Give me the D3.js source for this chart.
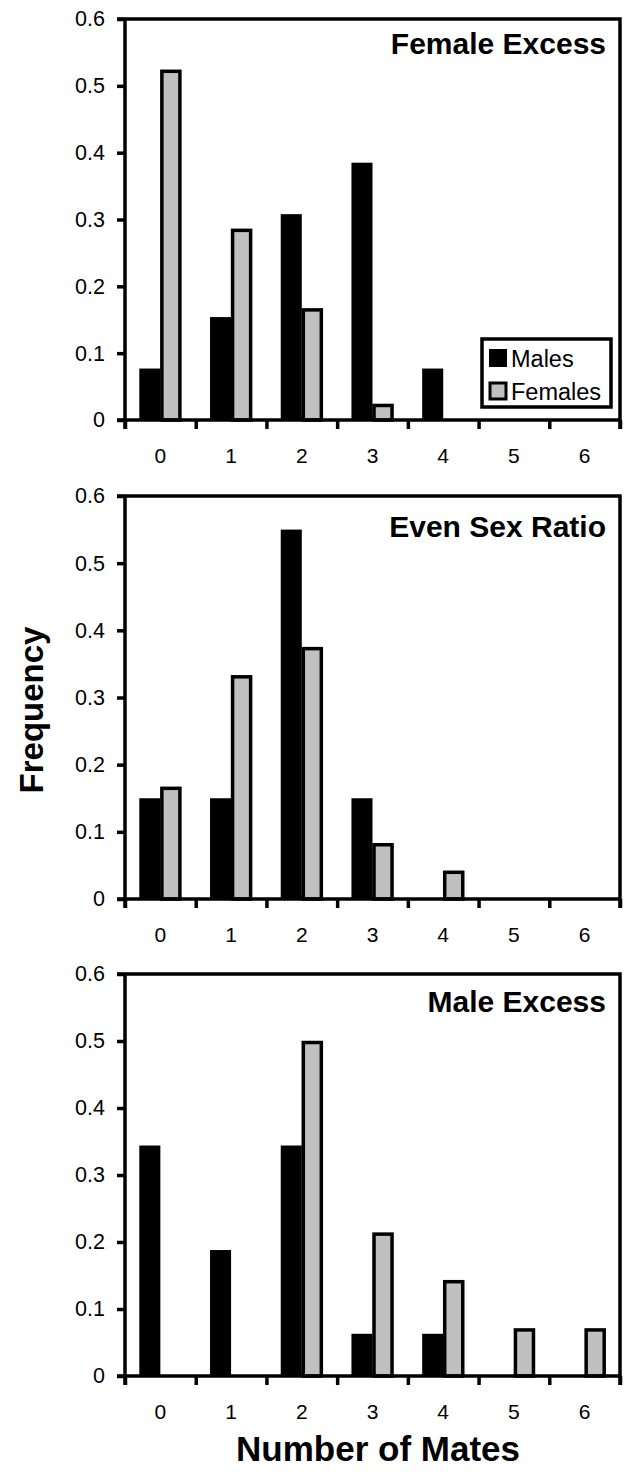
<!DOCTYPE html>
<html>
<head>
<meta charset="utf-8">
<script src="https://cdn.jsdelivr.net/npm/d3@7"></script>
<style>
  body { margin: 0; background: #fff; }
  svg { display: block; }
  text { font-family: "Liberation Sans", Arial, sans-serif; fill: #000; }
</style>
</head>
<body>
<div id="chart"></div>
<script>
// data
const mates = [0, 1, 2, 3, 4, 5, 6];
const panelTitles = ["Female Excess", "Even Sex Ratio", "Male Excess"];
const malesFemaleExcess = [0.077, 0.154, 0.308, 0.385, 0.077, 0, 0];
const femalesFemaleExcess = [0.524, 0.286, 0.167, 0.024, 0, 0, 0];
const malesEven = [0.15, 0.15, 0.55, 0.15, 0, 0, 0];
const femalesEven = [0.167, 0.333, 0.375, 0.083, 0.042, 0, 0];
const malesMaleExcess = [0.344, 0.188, 0.344, 0.063, 0.063, 0, 0];
const femalesMaleExcess = [0, 0, 0.5, 0.214, 0.143, 0.071, 0.071];
const yTicks = [0, 0.1, 0.2, 0.3, 0.4, 0.5, 0.6];
const legendLabels = ["Males", "Females"];

const width = 626;
const height = 1475;
const left = 125, right = 620;
const tops = [19, 496, 974];
const bottoms = [420, 899, 1376];
const titleDy = [35, 41, 38];

const panels = [
  [malesFemaleExcess, femalesFemaleExcess],
  [malesEven, femalesEven],
  [malesMaleExcess, femalesMaleExcess]
];

const svg = d3.select("div#chart").append("svg")
    .attr("width", width)
    .attr("height", height);

const x = d3.scaleBand().domain(mates).range([left, right]);
const xEdge = d3.scaleLinear().domain([0, 7]).range([left, right]);
const x1 = d3.scaleBand().domain(["m", "f"]).range([0, x.bandwidth()])
    .paddingInner(0).paddingOuter(0.68);

panels.forEach(function(series, i) {
  const y = d3.scaleLinear().domain([0, 0.6]).range([bottoms[i], tops[i]]);
  const g = svg.append("g");

  // bars
  mates.forEach(function(m, j) {
    g.append("rect")
      .attr("x", x(m) + x1("m"))
      .attr("y", y(series[0][j]))
      .attr("width", x1.bandwidth())
      .attr("height", y(0) - y(series[0][j]))
      .attr("fill", "#000");
    if (series[1][j] > 0) {
      g.append("rect")
        .attr("x", x(m) + x1("f") + 1.5)
        .attr("y", y(series[1][j]) + 1.5)
        .attr("width", x1.bandwidth() - 3)
        .attr("height", y(0) - y(series[1][j]) - 1.5)
        .attr("fill", "#c0c0c0")
        .attr("stroke", "#000")
        .attr("stroke-width", 3.5);
    }
  });

  // frame top + right
  g.append("path")
    .attr("d", "M" + (left - 8) + "," + tops[i] + "H" + right + "V" + (bottoms[i] + 9))
    .attr("fill", "none").attr("stroke", "#000").attr("stroke-width", 3.5);

  // y axis
  const yaxis = d3.axisLeft(y).tickValues(yTicks).tickSize(8)
      .tickFormat(function(d) { return d === 0 ? "0" : d3.format(".1f")(d); });
  const ya = g.append("g")
    .attr("transform", "translate(" + left + ",0)")
    .call(yaxis);
  ya.select(".domain").remove();
  ya.append("line").attr("x1", 0).attr("x2", 0)
    .attr("y1", tops[i]).attr("y2", bottoms[i] + 9);
  ya.selectAll("line").attr("stroke", "#000").attr("stroke-width", 3.5);
  ya.selectAll("text").attr("x", -20).style("font-size", "21.5px")
    .style("font-family", "'Liberation Sans', Arial, sans-serif").attr("fill", "#000");

  // x axis: ticks at bin edges
  const xaxis = d3.axisBottom(xEdge).tickValues(d3.range(8)).tickSize(9).tickFormat("");
  const xa = g.append("g")
    .attr("transform", "translate(0," + bottoms[i] + ")")
    .call(xaxis);
  xa.select(".domain").remove();
  xa.append("line").attr("x1", left - 8).attr("x2", right).attr("y1", 0).attr("y2", 0);
  xa.selectAll("line").attr("stroke", "#000").attr("stroke-width", 3.5);

  // x labels at bin centres
  const xl = g.append("g")
    .attr("transform", "translate(0," + bottoms[i] + ")")
    .call(d3.axisBottom(x).tickSize(0));
  xl.select(".domain").remove();
  xl.selectAll("text").attr("y", 43).attr("dy", null).style("font-size", "21px")
    .style("font-family", "'Liberation Sans', Arial, sans-serif").attr("fill", "#000");

  // panel title
  g.append("text")
    .attr("x", 606).attr("y", tops[i] + titleDy[i])
    .attr("text-anchor", "end")
    .style("font-size", "30px").style("font-weight", "bold")
    .text(panelTitles[i]);
});

// legend in first panel
const lg = svg.append("g");
lg.append("rect").attr("x", 482).attr("y", 339).attr("width", 129).attr("height", 68)
  .attr("fill", "#fff").attr("stroke", "#000").attr("stroke-width", 3.5);
legendLabels.forEach(function(lab, k) {
  const yy = 349 + k * 33;
  lg.append("rect")
    .attr("x", 489 + (k ? 1 : 0)).attr("y", yy + (k ? 1 : 0))
    .attr("width", k ? 16 : 18).attr("height", k ? 16 : 18)
    .attr("fill", k ? "#c0c0c0" : "#000")
    .attr("stroke", "#000").attr("stroke-width", k ? 3 : 0);
  lg.append("text").attr("x", 511).attr("y", yy + 18)
    .style("font-size", "23.5px").text(lab);
});

// axis titles
svg.append("text")
  .attr("transform", "translate(43,710) rotate(-90)")
  .attr("text-anchor", "middle")
  .style("font-size", "33px").style("font-weight", "bold")
  .text("Frequency");

svg.append("text")
  .attr("x", 378).attr("y", 1461)
  .attr("text-anchor", "middle")
  .style("font-size", "35px").style("font-weight", "bold")
  .text("Number of Mates");
</script>
</body>
</html>
